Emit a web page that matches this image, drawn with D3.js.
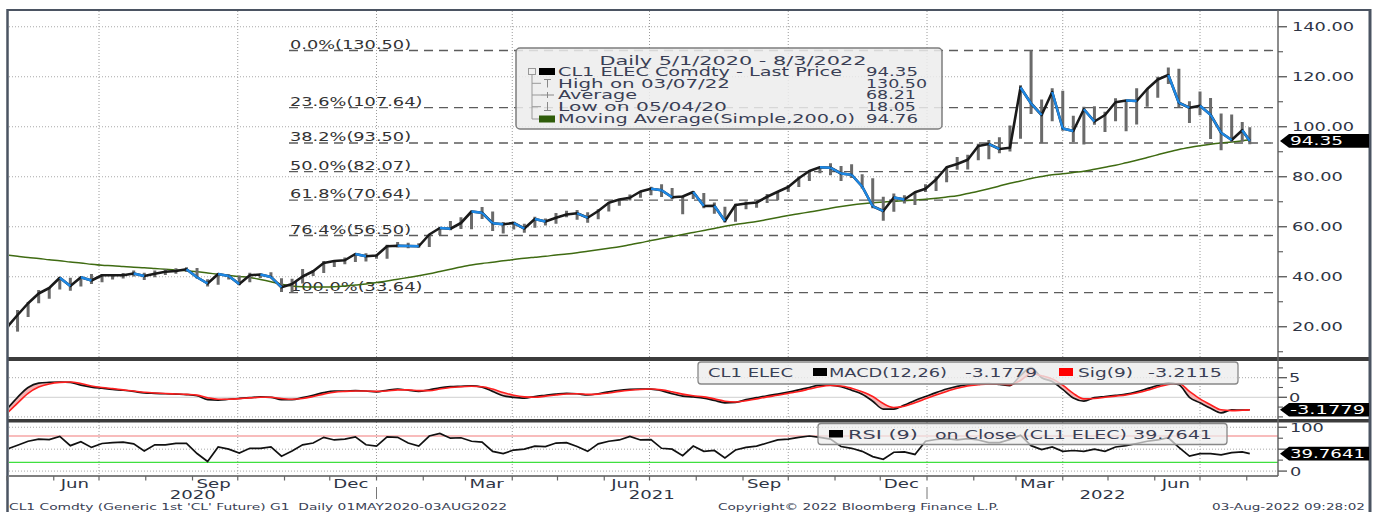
<!DOCTYPE html>
<html>
<head>
<meta charset="utf-8">
<script src="https://cdn.jsdelivr.net/npm/d3@7"></script>
<style>
html, body { margin: 0; padding: 0; background: #fff; }
svg { display: block; font-family: "DejaVu Sans", Verdana, sans-serif; }
text { white-space: pre; }
</style>
</head>
<body>
<svg id="chart" width="1378" height="512"></svg>
<script>
// weekly closes / highs / lows (week ending Friday, last = 03 Aug 2022)
const closes = [19.8, 24.7, 29.4, 33.3, 35.5, 39.6, 36.3, 39.8, 38.5, 40.6,
  40.6, 40.6, 41.3, 40.3, 41.2, 42.0, 42.3, 43.0, 39.8, 37.3,
  41.1, 40.3, 37.1, 40.6, 40.9, 39.9, 35.8, 37.1, 40.1, 42.2,
  45.5, 46.3, 46.6, 49.1, 48.2, 48.5, 52.2, 52.4, 52.3, 52.2,
  56.9, 59.5, 59.2, 61.5, 66.1, 65.6, 61.4, 61.0, 61.5, 59.3,
  63.1, 62.1, 63.6, 64.9, 65.4, 63.6, 66.3, 69.6, 70.9, 71.6,
  74.1, 75.2, 74.6, 71.8, 72.1, 73.9, 68.3, 68.4, 62.3, 68.7,
  69.3, 69.7, 72.0, 74.0, 75.9, 79.4, 82.3, 83.8, 83.6, 81.3,
  80.8, 76.1, 68.2, 66.3, 71.7, 70.9, 73.8, 75.2, 78.9, 83.8,
  85.1, 86.8, 92.3, 93.1, 91.1, 91.6, 115.7, 109.3, 104.7, 113.9,
  99.3, 98.3, 107.0, 102.1, 104.7, 109.8, 110.5, 110.3, 115.1, 118.9,
  120.7, 109.6, 107.6, 108.4, 104.8, 97.6, 94.7, 98.6, 94.35];
const highs = [20.5, 26.7, 29.9, 34.7, 35.6, 39.8, 39.6, 40.0, 41.1, 41.0,
  41.0, 41.5, 42.5, 41.6, 42.5, 43.0, 43.4, 43.8, 43.5, 39.0,
  41.4, 41.0, 40.5, 41.6, 41.2, 41.8, 39.4, 39.2, 43.1, 42.6,
  46.3, 46.6, 47.7, 49.3, 49.4, 48.9, 52.8, 53.9, 53.6, 53.4,
  57.0, 59.8, 62.3, 63.8, 66.4, 67.9, 66.1, 61.9, 62.0, 61.2,
  64.0, 63.3, 65.5, 66.4, 66.7, 65.8, 67.0, 69.8, 71.0, 72.9,
  74.2, 76.0, 77.0, 75.5, 72.4, 74.2, 73.5, 69.7, 68.0, 69.2,
  70.1, 70.0, 73.1, 74.1, 76.7, 80.1, 82.6, 83.9, 85.4, 84.3,
  85.0, 81.0, 79.4, 72.0, 73.3, 72.6, 73.9, 77.0, 80.2, 84.0,
  87.9, 88.8, 93.2, 94.7, 95.8, 100.5, 116.6, 130.5, 110.9, 115.4,
  114.4, 104.4, 108.0, 108.2, 106.0, 111.4, 110.7, 115.4, 115.2, 120.0,
  123.7, 123.2, 110.2, 114.1, 111.5, 105.3, 104.9, 101.9, 99.8];
const lows = [17.3, 18.05, 23.9, 29.4, 31.2, 34.9, 34.4, 36.1, 37.1, 37.8,
  38.9, 39.3, 40.1, 38.7, 39.8, 40.7, 41.2, 41.9, 39.3, 36.1,
  36.8, 38.9, 36.6, 37.8, 39.5, 39.4, 33.9, 33.64, 37.3, 40.3,
  41.5, 43.9, 45.0, 45.9, 46.1, 47.2, 47.2, 51.8, 51.4, 51.6,
  51.9, 56.7, 58.6, 59.1, 59.0, 63.1, 58.3, 57.3, 58.9, 57.6,
  59.6, 60.5, 61.2, 63.8, 62.8, 61.6, 63.0, 66.1, 68.4, 70.5,
  71.6, 72.6, 71.9, 71.0, 65.0, 71.1, 67.4, 65.2, 61.7, 62.0,
  67.0, 67.6, 69.5, 70.6, 73.9, 75.9, 78.3, 81.4, 80.6, 78.3,
  79.5, 75.3, 67.4, 62.4, 66.0, 69.3, 68.7, 73.9, 74.3, 77.8,
  82.8, 82.9, 86.6, 87.0, 89.4, 90.1, 95.2, 105.1, 93.5, 102.2,
  98.4, 93.9, 92.9, 100.8, 97.9, 102.2, 98.2, 100.9, 108.0, 111.6,
  117.1, 107.8, 101.5, 104.6, 95.1, 90.6, 93.9, 94.0, 93.0];
const ma200 = [48.7, 48.2, 47.7, 47.3, 46.8, 46.4, 45.9, 45.5, 45.0, 44.6,
  44.4, 44.1, 43.8, 43.6, 43.3, 43.0, 42.7, 42.4, 42.0, 41.5,
  41.0, 40.5, 40.1, 39.7, 38.9, 38.0, 37.0, 36.3, 36.0, 35.9,
  35.9, 36.0, 36.3, 36.7, 37.1, 37.7, 38.3, 39.0, 39.7, 40.4,
  41.2, 42.1, 43.0, 43.9, 44.7, 45.3, 45.8, 46.4, 46.9, 47.4,
  47.8, 48.2, 48.7, 49.1, 49.6, 50.2, 50.8, 51.4, 52.0, 52.8,
  53.6, 54.5, 55.3, 56.1, 56.9, 57.7, 58.5, 59.3, 60.2, 60.9,
  61.5, 62.1, 62.9, 63.7, 64.5, 65.2, 65.9, 66.6, 67.4, 68.1,
  68.7, 69.2, 69.6, 69.9, 70.2, 70.4, 70.7, 71.0, 71.4, 71.9,
  72.4, 73.3, 74.2, 75.2, 76.3, 77.4, 78.3, 79.3, 80.1, 80.8,
  81.2, 81.7, 82.2, 83.0, 83.8, 84.6, 85.6, 86.6, 87.7, 88.8,
  89.9, 90.9, 91.7, 92.4, 93.0, 93.5, 93.9, 94.4, 94.76];
const macd = [-3.0, 0.0, 2.5, 3.6, 3.8, 3.9, 3.8, 3.1, 2.6, 2.3,
  2.0, 1.8, 1.5, 1.1, 1.0, 0.9, 0.8, 0.7, 0.4, -0.6,
  -0.7, -0.5, -0.3, -0.1, 0.1, 0.0, -0.6, -0.6, -0.1, 0.5,
  1.2, 1.6, 1.6, 1.7, 1.6, 1.4, 1.8, 2.1, 1.8, 1.5,
  1.9, 2.4, 2.7, 2.8, 2.9, 2.6, 1.5, 0.4, 0.0, -0.2,
  0.2, 0.5, 0.8, 1.0, 0.9, 0.6, 0.9, 1.4, 1.8, 2.0,
  2.1, 2.1, 1.7, 0.9, 0.3, 0.1, -0.2, -0.8, -1.4, -1.3,
  -0.6, -0.1, 0.4, 0.8, 1.3, 1.9, 2.5, 3.1, 3.1, 2.7,
  1.8, 0.8, -1.0, -3.0, -3.0, -2.0, -0.8, 0.2, 1.2, 2.1,
  2.8, 3.2, 3.4, 3.5, 3.3, 3.0, 5.6, 7.6, 5.0, 4.0,
  2.0, -0.2, -1.0, -0.1, 0.2, 0.5, 0.8, 1.4, 2.2, 3.0,
  3.7, 3.2, 0.0, -1.4, -2.8, -4.0, -3.2, -3.3, -3.1779];
const signal = [-4.1, -1.5, 1.0, 2.6, 3.4, 3.8, 3.9, 3.5, 2.9, 2.5,
  2.2, 1.9, 1.6, 1.3, 1.1, 0.95, 0.85, 0.75, 0.55, -0.1,
  -0.5, -0.5, -0.35, -0.15, 0.0, 0.0, -0.3, -0.5, -0.3, 0.2,
  0.8, 1.3, 1.5, 1.6, 1.6, 1.5, 1.6, 1.9, 1.9, 1.7,
  1.7, 2.1, 2.5, 2.7, 2.8, 2.7, 2.1, 1.2, 0.5, 0.1,
  0.0, 0.3, 0.6, 0.85, 0.9, 0.75, 0.8, 1.1, 1.5, 1.8,
  2.0, 2.1, 1.9, 1.4, 0.8, 0.4, 0.1, -0.4, -1.0, -1.2,
  -0.9, -0.4, 0.1, 0.5, 1.0, 1.5, 2.1, 2.7, 3.0, 2.9,
  2.3, 1.4, 0.2, -1.6, -2.6, -2.3, -1.4, -0.4, 0.6, 1.5,
  2.3, 2.9, 3.2, 3.4, 3.4, 3.2, 4.3, 6.0, 5.5, 4.7,
  3.1, 1.0, -0.4, -0.3, 0.0, 0.3, 0.6, 1.1, 1.8, 2.6,
  3.3, 3.5, 1.5, -0.4, -1.9, -3.2, -3.4, -3.3, -3.2115];
const rsi = [50, 59, 68, 73, 72, 79, 58, 67, 54, 63,
  65, 66, 62, 46, 60, 60, 63, 63, 40, 22,
  55, 50, 41, 52, 52, 55, 34, 46, 60, 64,
  77, 71, 73, 78, 60, 57, 78, 77, 64, 57,
  80, 86, 75, 76, 68, 66, 45, 40, 48, 50,
  57, 56, 64, 65, 56, 45, 62, 68, 71, 79,
  71, 72, 52, 50, 35, 57, 45, 47, 30, 48,
  54, 57, 64, 71, 73, 77, 80, 77, 73, 56,
  52, 45, 33, 27, 43, 44, 38, 68, 72, 74,
  71, 74, 71, 65, 65, 72, 82, 58, 49, 55,
  45, 47, 45, 50, 45, 55, 58, 63, 68, 71,
  76, 54, 34, 40, 40, 37, 42, 44, 39.7641];

const fibPct = ["0.0%", "23.6%", "38.2%", "50.0%", "61.8%", "76.4%", "100.0%"];
const fibLevels = [130.50, 107.64, 93.50, 82.07, 70.64, 56.50, 33.64];
const priceTicks = [20, 40, 60, 80, 100, 120, 140];
const priceMinor = [10, 30, 50, 70, 90, 110, 130];
const macdTicks = [5, 0];
const macdMinor = [7.5, 2.5, -2.5, -5];
const rsiTicks = [100, 50, 0];
const rsiLabels = [100, 0]; // the 50 label sits under the last-value tag
const rsiMinor = [75, 25];
const monthLabels = [5, 8, 11, 2]; // Jun, Sep, Dec, Mar

const firstWeek = new Date(2020, 4, 1);
const lastDay = new Date(2022, 7, 3);
const dates = closes.map((d, i) => i < closes.length - 1 ? d3.timeDay.offset(firstWeek, 7 * i) : lastDay);
const idx = d3.range(closes.length);

const svg = d3.select('#chart');
const TXT = '#2f3545';
const LEG = '#3a3f55';
const L = 9, R = 1278;
const mainP = { top: 11, bottom: 357 };
const macdP = { top: 361, bottom: 419 };
const rsiP = { top: 423, bottom: 476 };

const x = d3.scaleTime().domain([new Date(2020, 4, 1), new Date(2022, 6, 1)]).range([7, 1200]);
const yP = d3.scaleLinear().domain([7.5, 146.7]).range([358, 10]);
const yM = d3.scaleLinear().domain([-5.54, 9.26]).range([419, 361]);
const yR = d3.scaleLinear().domain([-11.2, 109.7]).range([476, 423]);
const endDate = x.invert(R);

// stretch text to match the wide look of the screenshot
function label(g, px, py, str, o = {}) {
  const t = g.append('text').attr('x', px).attr('y', py).text(str)
    .attr('font-size', o.size || 12.5).attr('fill', o.fill || TXT)
    .attr('text-anchor', o.anchor || 'start');
  const w = o.width || t.node().getComputedTextLength() * (o.k || 1.45);
  t.attr('textLength', w).attr('lengthAdjust', 'spacingAndGlyphs');
  return t;
}

svg.append('rect').attr('width', 1378).attr('height', 512).attr('fill', '#fff');

const defs = svg.append('defs');
[['clipMain', mainP], ['clipMacd', macdP], ['clipRsi', rsiP]].forEach(([id, p]) => {
  defs.append('clipPath').attr('id', id).append('rect')
    .attr('x', L).attr('y', p.top).attr('width', R - L).attr('height', p.bottom - p.top);
});

// quarter gridlines across all panels
const quarters = d3.timeMonth.every(3).range(firstWeek, endDate);
svg.append('g').selectAll('line').data(quarters).join('line')
  .attr('x1', d => x(d)).attr('x2', d => x(d)).attr('y1', 11).attr('y2', 476)
  .attr('stroke', '#9a9a9a').attr('stroke-dasharray', '1,2');

// ---- price panel
const gMain = svg.append('g').attr('clip-path', 'url(#clipMain)');
gMain.selectAll('line.grid').data(priceTicks).join('line').attr('class', 'grid')
  .attr('x1', L).attr('x2', R).attr('y1', d => yP(d)).attr('y2', d => yP(d))
  .attr('stroke', '#a8a8a8').attr('stroke-dasharray', '1,2');

gMain.selectAll('line.fib').data(fibLevels).join('line').attr('class', 'fib')
  .attr('x1', 289).attr('x2', R).attr('y1', d => yP(d)).attr('y2', d => yP(d))
  .attr('stroke', '#5c5c5c').attr('stroke-width', 1.3).attr('stroke-dasharray', '9,6');
fibLevels.forEach((v, i) => {
  label(gMain, 290, yP(v) - 2, `${fibPct[i]}(${v.toFixed(2)})`, { size: 12.5, k: 1.42, fill: '#333' });
});

gMain.append('path').datum(idx)
  .attr('d', d3.line().x(i => x(dates[i])).y(i => yP(ma200[i])).curve(d3.curveMonotoneX))
  .attr('fill', 'none').attr('stroke', '#3f6b12').attr('stroke-width', 1.5);

gMain.selectAll('line.wick').data(idx).join('line').attr('class', 'wick')
  .attr('x1', i => x(dates[i])).attr('x2', i => x(dates[i]))
  .attr('y1', i => yP(lows[i])).attr('y2', i => yP(highs[i]))
  .attr('stroke', '#6a6a6a').attr('stroke-width', 3);
gMain.append('path').datum(idx)
  .attr('d', d3.line().x(i => x(dates[i])).y(i => yP(closes[i])))
  .attr('fill', 'none').attr('stroke', '#1a1a1a').attr('stroke-width', 2.6)
  .attr('stroke-linejoin', 'round');
gMain.selectAll('line.down').data(idx.filter(i => i > 0 && closes[i] < closes[i - 1])).join('line').attr('class', 'down')
  .attr('x1', i => x(dates[i - 1])).attr('x2', i => x(dates[i]))
  .attr('y1', i => yP(closes[i - 1])).attr('y2', i => yP(closes[i]))
  .attr('stroke', '#1e88e5').attr('stroke-width', 2.4);

// legend
const lg = svg.append('g');
lg.append('rect').attr('x', 516).attr('y', 48).attr('width', 426).attr('height', 81).attr('rx', 4)
  .attr('fill', '#ececec').attr('fill-opacity', 0.85).attr('stroke', '#7d7d7d').attr('stroke-width', 1.5);
label(lg, 733, 64.5, 'Daily 5/1/2020 - 8/3/2022', { size: 12, anchor: 'middle', width: 267, fill: LEG });
const rowY = [76, 87.7, 99.3, 111, 123.2];
const legNames = ['CL1 ELEC Comdty - Last Price', 'High on 03/07/22', 'Average', 'Low on 05/04/20', 'Moving Average(Simple,200,0)'];
const legVals = ['94.35', '130.50', '68.21', '18.05', '94.76'];
const legW = [284, 172, 79, 169, 297];
const valW = [52, 61, 50, 50, 52];
legNames.forEach((s, i) => {
  label(lg, 558, rowY[i], s, { size: 11.5, width: legW[i], fill: LEG });
  label(lg, 866, rowY[i], legVals[i], { size: 11.5, width: valW[i], fill: LEG });
});
lg.append('rect').attr('x', 528.5).attr('y', 68.5).attr('width', 7).attr('height', 6).attr('fill', 'none').attr('stroke', '#999');
lg.append('line').attr('x1', 532).attr('x2', 532).attr('y1', 75).attr('y2', 119).attr('stroke', '#999');
[83.3, 95, 106.7, 119].forEach(c => lg.append('line').attr('x1', 532).attr('x2', 541).attr('y1', c).attr('y2', c).attr('stroke', '#999'));
lg.append('rect').attr('x', 539).attr('y', 68).attr('width', 16).attr('height', 7).attr('fill', '#000');
lg.append('rect').attr('x', 539).attr('y', 115.5).attr('width', 16).attr('height', 7).attr('fill', '#2f5c0a');
lg.append('path').attr('d', 'M544,79.5H551M547.5,79.5V87.5').attr('stroke', '#888').attr('fill', 'none');
lg.append('path').attr('d', 'M541,95H554M547.5,92V98').attr('stroke', '#888').attr('fill', 'none');
lg.append('path').attr('d', 'M547.5,102V110.5M544,110.5H551').attr('stroke', '#888').attr('fill', 'none');

// ---- MACD panel
const gM = svg.append('g').attr('clip-path', 'url(#clipMacd)');
gM.selectAll('line.g').data([5, -5]).join('line').attr('class', 'g')
  .attr('x1', L).attr('x2', R).attr('y1', d => yM(d)).attr('y2', d => yM(d))
  .attr('stroke', '#a8a8a8').attr('stroke-dasharray', '1,2');
gM.append('line').attr('x1', L).attr('x2', R).attr('y1', yM(0)).attr('y2', yM(0)).attr('stroke', '#cfcfcf');
gM.append('path').datum(idx)
  .attr('d', d3.area().x(i => x(dates[i])).y0(i => yM(signal[i])).y1(i => yM(macd[i])).curve(d3.curveMonotoneX))
  .attr('fill', '#f4b4b4');
gM.append('path').datum(idx)
  .attr('d', d3.line().x(i => x(dates[i])).y(i => yM(macd[i])).curve(d3.curveMonotoneX))
  .attr('fill', 'none').attr('stroke', '#111').attr('stroke-width', 1.7);
gM.append('path').datum(idx)
  .attr('d', d3.line().x(i => x(dates[i])).y(i => yM(signal[i])).curve(d3.curveMonotoneX))
  .attr('fill', 'none').attr('stroke', '#ff1f1f').attr('stroke-width', 1.6);

const mg = svg.append('g');
mg.append('rect').attr('x', 698).attr('y', 362).attr('width', 540).attr('height', 22).attr('rx', 3)
  .attr('fill', '#ececec').attr('fill-opacity', 0.8).attr('stroke', '#888').attr('stroke-width', 1.3);
label(mg, 708, 377, 'CL1 ELEC', { width: 85, fill: LEG });
mg.append('rect').attr('x', 813).attr('y', 368).attr('width', 14).attr('height', 8).attr('fill', '#000');
label(mg, 829, 377, 'MACD(12,26)', { width: 118, fill: LEG });
label(mg, 965, 377, '-3.1779', { width: 72, fill: LEG });
mg.append('rect').attr('x', 1059).attr('y', 368).attr('width', 14).attr('height', 8).attr('fill', '#ff0000');
label(mg, 1078, 377, 'Sig(9)', { width: 55, fill: LEG });
label(mg, 1148, 377, '-3.2115', { width: 74, fill: LEG });

// ---- RSI panel
const gR = svg.append('g').attr('clip-path', 'url(#clipRsi)');
gR.selectAll('line.g').data(rsiTicks).join('line').attr('class', 'g')
  .attr('x1', L).attr('x2', R).attr('y1', d => yR(d)).attr('y2', d => yR(d))
  .attr('stroke', '#a8a8a8').attr('stroke-dasharray', '1,2');
gR.append('line').attr('x1', L).attr('x2', R).attr('y1', yR(80)).attr('y2', yR(80)).attr('stroke', '#f27b7b').attr('stroke-width', 1.1);
gR.append('line').attr('x1', L).attr('x2', R).attr('y1', yR(20)).attr('y2', yR(20)).attr('stroke', '#3fe03f').attr('stroke-width', 1.3);
gR.append('path').datum(idx)
  .attr('d', d3.line().x(i => x(dates[i])).y(i => yR(rsi[i])))
  .attr('fill', 'none').attr('stroke', '#111').attr('stroke-width', 1.7);

const rg = svg.append('g');
rg.append('rect').attr('x', 818).attr('y', 423.5).attr('width', 409).attr('height', 21).attr('rx', 3)
  .attr('fill', '#ececec').attr('fill-opacity', 0.7).attr('stroke', '#888').attr('stroke-width', 1.3);
rg.append('rect').attr('x', 829).attr('y', 430).attr('width', 14).attr('height', 7.5).attr('fill', '#000');
label(rg, 848, 438.5, 'RSI (9)', { width: 70, fill: LEG });
label(rg, 935, 438.5, 'on Close (CL1 ELEC)', { width: 192, fill: LEG });
label(rg, 1133, 438.5, '39.7641', { width: 79, fill: LEG });

// ---- frame and separators
svg.append('rect').attr('x', 8).attr('y', 357).attr('width', 1362).attr('height', 4).attr('fill', '#3c3c3c');
svg.append('rect').attr('x', 8).attr('y', 419).attr('width', 1362).attr('height', 3.5).attr('fill', '#3c3c3c');
svg.append('line').attr('x1', 9).attr('x2', R).attr('y1', 476).attr('y2', 476).attr('stroke', '#555').attr('stroke-width', 1.5);
svg.append('line').attr('x1', 7).attr('x2', 1370).attr('y1', 10).attr('y2', 10).attr('stroke', '#4b5462').attr('stroke-width', 2);
svg.append('line').attr('x1', 7.5).attr('x2', 7.5).attr('y1', 9).attr('y2', 512).attr('stroke', '#4b5462').attr('stroke-width', 2.5);
svg.append('line').attr('x1', 1370).attr('x2', 1370).attr('y1', 9).attr('y2', 512).attr('stroke', '#4b5462').attr('stroke-width', 3);
svg.append('line').attr('x1', R).attr('x2', R).attr('y1', 10).attr('y2', 476).attr('stroke', '#666').attr('stroke-width', 1.5);

// ---- right axes
const ax = svg.append('g');
function ticks(scale, major, minor) {
  major.forEach(v => ax.append('line').attr('x1', R).attr('x2', R + 9).attr('y1', scale(v)).attr('y2', scale(v)).attr('stroke', '#555').attr('stroke-width', 1.3));
  minor.forEach(v => ax.append('line').attr('x1', R).attr('x2', R + 5).attr('y1', scale(v)).attr('y2', scale(v)).attr('stroke', '#555').attr('stroke-width', 1.1));
}
ticks(yP, priceTicks, priceMinor);
priceTicks.forEach(v => label(ax, 1292, yP(v) + 4.6, v.toFixed(2), { size: 12.5, k: 1.42 }));
ticks(yM, macdTicks, macdMinor);
macdTicks.forEach(v => label(ax, 1289, yM(v) + 4.6, String(v), { size: 12.5, k: 1.42 }));
ticks(yR, rsiTicks, rsiMinor);
rsiLabels.forEach(v => label(ax, 1290, yR(v) + 4.6, String(v), { size: 12.5, k: 1.42 }));

function tag(py, str, w) {
  ax.append('path').attr('d', `M${R + 2},${py}L${R + 11},${py - 6.8}H1369V${py + 6.8}H${R + 11}Z`).attr('fill', '#000');
  label(ax, 1290, py + 4.6, str, { size: 12.5, width: w, fill: '#fff' });
}
tag(yP(closes[closes.length - 1]), closes[closes.length - 1].toFixed(2), 53);
tag(yM(macd[macd.length - 1]), macd[macd.length - 1].toFixed(4), 75);
tag(yR(rsi[rsi.length - 1]), rsi[rsi.length - 1].toFixed(4), 75);

// ---- bottom time axis
const bx = svg.append('g');
const months = d3.timeMonth.range(firstWeek, endDate);
bx.selectAll('line').data(months).join('line')
  .attr('x1', d => x(d)).attr('x2', d => x(d)).attr('y1', 476).attr('y2', 480.5)
  .attr('stroke', '#666').attr('stroke-width', 1.2);
months.filter(d => monthLabels.includes(d.getMonth())).forEach(d => {
  const mid = new Date(d.getFullYear(), d.getMonth(), 15);
  label(bx, x(mid), 487.5, d3.timeFormat('%b')(mid), { size: 12.5, anchor: 'middle', k: 1.45 });
});
const yearStarts = d3.timeYear.range(firstWeek, endDate);
yearStarts.forEach(d => bx.append('line').attr('x1', x(d)).attr('x2', x(d)).attr('y1', 487).attr('y2', 499).attr('stroke', '#777'));
const yearBounds = [L, ...yearStarts.map(d => x(d)), R];
d3.range(yearBounds.length - 1).forEach(i => {
  const yr = 2020 + i;
  label(bx, (yearBounds[i] + yearBounds[i + 1]) / 2, 498.5, String(yr), { size: 12.5, anchor: 'middle', k: 1.45 });
});

// ---- footer
label(svg, 9, 510, "CL1 Comdty (Generic 1st 'CL' Future) G1  Daily 01MAY2020-03AUG2022", { size: 9.5, width: 498, fill: LEG });
label(svg, 718, 510, 'Copyright\u00a9 2022 Bloomberg Finance L.P.', { size: 9.5, width: 281, fill: LEG });
label(svg, 1365, 510, '03-Aug-2022 09:28:02', { size: 9.5, width: 153, anchor: 'end', fill: LEG });
</script>
</body>
</html>
